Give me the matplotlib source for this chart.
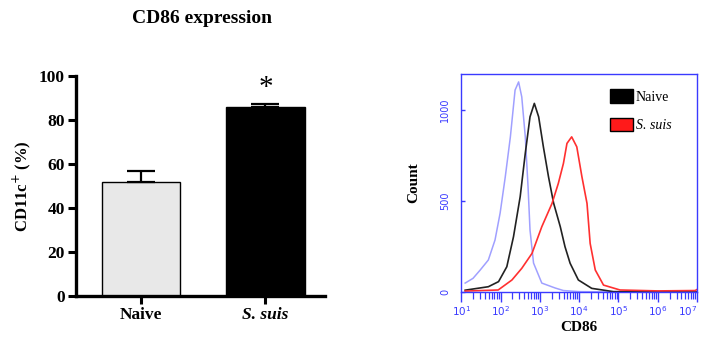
#!/usr/bin/env python3
"""
CD86 expression: bar chart of CD11c+ percentages and flow cytometry histogram.
"""

import numpy as np
import matplotlib
matplotlib.use("Agg")
import matplotlib.pyplot as plt
import matplotlib.ticker as mticker
from matplotlib.patches import Patch

# --- Data ---
groups = ["Naive", "S. suis"]
pct_means = [52, 86]
pct_err_up = [5, 1.5]

# histogram curves, x given as log10(CD86)
iso_log = [1.10, 1.30, 1.48, 1.69, 1.86, 1.99, 2.12, 2.25, 2.37, 2.46, 2.54, 2.63,
           2.70, 2.75, 2.84, 3.05, 3.39, 3.60, 4.00, 5.00, 7.00]
iso_cnt = [49, 75, 120, 176, 286, 434, 632, 852, 1110, 1155, 1073, 853,
           579, 341, 159, 49, 22, 8, 2, 0, 0]

naive_log = [1.10, 1.69, 1.95, 2.16, 2.33, 2.50, 2.63, 2.75, 2.86, 2.97, 3.09, 3.22,
             3.35, 3.52, 3.64, 3.77, 3.98, 4.32, 4.87, 5.50, 7.00]
naive_cnt = [10, 29, 57, 139, 304, 524, 763, 963, 1037, 963, 798, 634,
             489, 359, 249, 158, 66, 20, 2, 1, 0]

ssuis_log = [1.10, 1.94, 2.29, 2.54, 2.80, 3.05, 3.31, 3.47, 3.60, 3.69, 3.81, 3.94,
             4.07, 4.20, 4.28, 4.41, 4.62, 5.04, 6.00, 6.95, 7.00]
ssuis_cnt = [5, 11, 66, 130, 212, 359, 487, 597, 707, 817, 853, 798,
             634, 487, 267, 121, 38, 11, 6, 8, 14]

decade_labels = ["$10^{1}$", "$10^{2}$", "$10^{3}$", "$10^{4}$",
                 "$10^{5}$", "$10^{6}$", "$10^{7}$"]

bar_colors = ["#e8e8e8", "black"]
serif = ["Liberation Serif", "DejaVu Serif"]
blue = "#3a3aff"

fig = plt.figure(figsize=(7.02, 3.41), dpi=100)

# --- Left: bar chart ---
ax1 = fig.add_axes([0.108, 0.132, 0.355, 0.645])
xpos = np.arange(len(groups))
ax1.bar(xpos, pct_means, width=0.63, color=bar_colors, edgecolor="black",
        linewidth=1.0, zorder=2)
ax1.errorbar(xpos, pct_means, yerr=[[0, 0], pct_err_up], fmt="none",
             ecolor="black", elinewidth=1.6, capsize=10, capthick=1.6, zorder=3)
ax1.text(xpos[1], 94.5, "*", ha="center", va="center", fontsize=21,
         family=serif)

ax1.set_xlim(-0.522, 1.478)
ax1.set_ylim(0, 100)
ax1.set_yticks([0, 20, 40, 60, 80, 100])
ax1.set_xticks(xpos)
ax1.set_xticklabels(groups)
for lbl, style in zip(ax1.get_xticklabels(), ["normal", "italic"]):
    lbl.set_fontstyle(style)
for lbl in ax1.get_xticklabels() + ax1.get_yticklabels():
    lbl.set_family(serif)
    lbl.set_fontweight("bold")
    lbl.set_fontsize(12.5)
ax1.tick_params(axis="both", direction="out", length=6, width=2.2, pad=2)
for side in ["top", "right"]:
    ax1.spines[side].set_visible(False)
for side in ["left", "bottom"]:
    ax1.spines[side].set_linewidth(2.4)
ax1.set_ylabel("CD11c$^{+}$ (%)", family=serif, fontweight="bold", fontsize=12,
               labelpad=4)
fig.text(0.288, 0.945, "CD86 expression", ha="center", va="center",
         family=serif, fontweight="bold", fontsize=14)

# --- Right: histogram ---
ax2 = fig.add_axes([0.657, 0.1437, 0.336, 0.639])
ax2.plot(10 ** np.array(iso_log), iso_cnt, color="#a0a0ff", lw=1.1)
ax2.plot(10 ** np.array(naive_log), naive_cnt, color="#222222", lw=1.2)
ax2.plot(10 ** np.array(ssuis_log), ssuis_cnt, color="#ff3030", lw=1.2)
ax2.set_xscale("log")
ax2.set_xlim(10, 1e7)
ax2.set_ylim(0, 1198)
ax2.set_yticks([0, 500, 1000])
ax2.set_yticklabels(["0", "500", "1000"], rotation=90, va="center",
                    color=blue, fontsize=7)
ax2.xaxis.set_major_locator(mticker.FixedLocator([1e1, 1e2, 1e3, 1e4, 1e5, 1e6, 1e7]))
ax2.xaxis.set_major_formatter(mticker.FixedFormatter(decade_labels))
ax2.xaxis.set_minor_locator(mticker.LogLocator(base=10, subs=np.arange(2, 10),
                                               numticks=20))
ax2.xaxis.set_minor_formatter(mticker.NullFormatter())
for lbl in ax2.get_xticklabels():
    lbl.set_color(blue)
    lbl.set_fontsize(7.5)
ax2.get_xticklabels()[-1].set_horizontalalignment("right")
ax2.tick_params(axis="x", which="major", direction="out", colors=blue,
                length=7, width=1.0, pad=2)
ax2.tick_params(axis="x", which="minor", direction="out", colors=blue,
                length=5, width=0.9)
ax2.tick_params(axis="y", direction="in", colors=blue, length=3, width=1.0,
                pad=8)
for sp in ax2.spines.values():
    sp.set_color(blue)
    sp.set_linewidth(1.0)
ax2.set_ylabel("Count", family=serif, fontweight="bold", fontsize=11,
               labelpad=14)
ax2.set_xlabel("CD86", family=serif, fontweight="bold", fontsize=11,
               labelpad=2)

handles = [Patch(facecolor="black", edgecolor="black"),
           Patch(facecolor="#ff1a1a", edgecolor="black")]
leg = ax2.legend(handles, ["Naive", "S. suis"], loc="upper left",
                 bbox_to_anchor=(0.63, 0.93), frameon=False,
                 prop={"family": serif, "size": 10},
                 handlelength=1.65, handleheight=1.1, handletextpad=0.2,
                 labelspacing=1.0, borderaxespad=0.0, borderpad=0.0)
leg.get_texts()[1].set_fontstyle("italic")

fig.savefig("out.png", dpi=100)
